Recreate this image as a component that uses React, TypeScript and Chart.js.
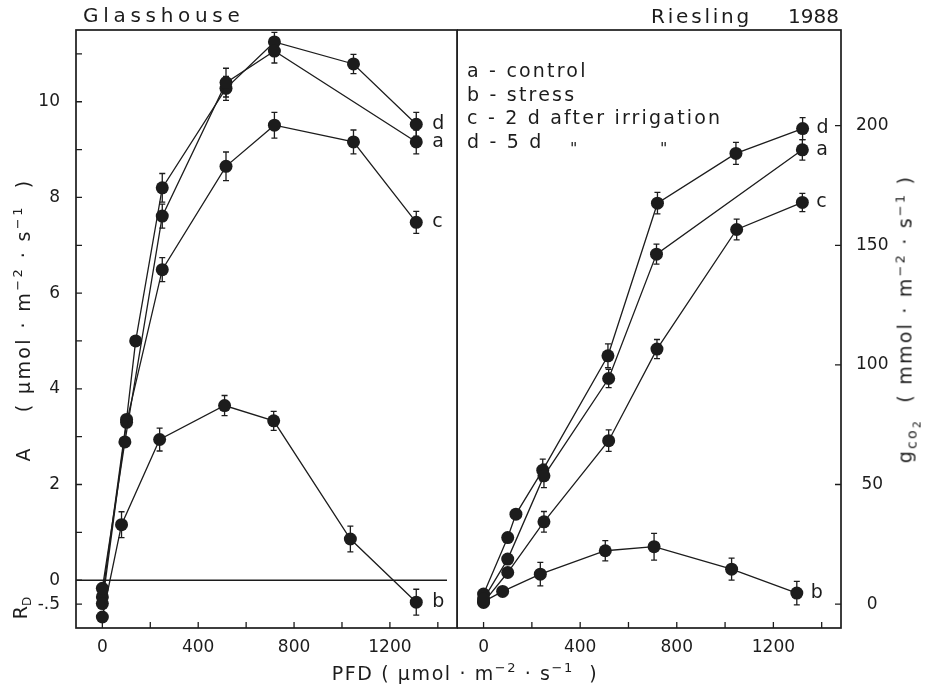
import React, { useEffect, useRef } from 'react';
import { Chart, registerables } from 'chart.js';

Chart.register(...registerables);

// ---------------- data ----------------
const seriesKeys = ['a', 'b', 'c', 'd'];

// Left panel: net photosynthesis A (µmol m-2 s-1) vs PFD
const leftPfdA = [0, 94, 250, 516, 718, 1310];
const leftValA = [-0.17, 2.89, 7.61, 10.4, 11.06, 9.16];
const leftErrA = [0, 0, 0.25, 0.3, 0.25, 0.25];
const leftPfdB = [0, 80, 239, 510, 715, 1035, 1310];
const leftValB = [-0.77, 1.16, 2.94, 3.65, 3.33, 0.86, -0.46];
const leftErrB = [0, 0.27, 0.24, 0.21, 0.2, 0.27, 0.27];
const leftPfdC = [0, 101, 250, 516, 718, 1048, 1310];
const leftValC = [-0.49, 3.3, 6.49, 8.65, 9.51, 9.16, 7.48];
const leftErrC = [0, 0, 0.25, 0.3, 0.27, 0.25, 0.23];
const leftPfdD = [0, 101, 139, 250, 516, 718, 1048, 1310];
const leftValD = [-0.35, 3.36, 5.0, 8.2, 10.28, 11.25, 10.79, 9.53];
const leftErrD = [0, 0, 0, 0.3, 0.25, 0.2, 0.2, 0.25];

// Right panel: stomatal conductance gCO2 (mmol m-2 s-1) vs PFD
const rightPfdA = [0, 100, 250, 518, 716, 1320];
const rightValA = [2.1, 18.8, 53.6, 94.3, 146.3, 189.9];
const rightErrA = [0, 0, 4.9, 3.8, 4.2, 4.3];
const rightPfdB = [0, 79, 235, 504, 706, 1027, 1297];
const rightValB = [1.0, 5.3, 12.5, 22.3, 24.0, 14.6, 4.6];
const rightErrB = [0, 0, 4.9, 4.2, 5.6, 4.6, 4.9];
const rightPfdC = [0, 100, 250, 518, 718, 1048, 1320];
const rightValC = [0.7, 13.2, 34.4, 68.3, 106.6, 156.6, 167.9];
const rightErrC = [0, 0, 4.3, 4.5, 4.0, 4.3, 3.8];
const rightPfdD = [0, 100, 134, 245, 515, 720, 1045, 1321];
const rightValD = [4.2, 27.8, 37.6, 56.0, 103.8, 167.6, 188.4, 198.8];
const rightErrD = [0, 0, 0, 4.6, 5.0, 4.5, 4.6, 4.6];

// ticks
const pfdTicks = [0, 200, 400, 600, 800, 1000, 1200, 1400];
const pfdLabelled = [0, 400, 800, 1200];
const aTicks = [-0.5, 0, 1, 2, 3, 4, 5, 6, 7, 8, 9, 10, 11];
const aLabelled = [0, 2, 4, 6, 8, 10];
const gTicks = [0, 50, 100, 150, 200];

const legendLines = ['a - control', 'b - stress', 'c - 2 d after irrigation', 'd - 5 d'];

// ---------------- style ----------------
const INK = '#1c1c1c';
const FONT = '"DejaVu Sans", sans-serif';
const tickFont = { family: FONT, size: 17 };

function makeDataset(key: string, pfd: number[], vals: number[], errs: number[]) {
  return {
    label: key,
    data: pfd.map((x, i) => ({ x, y: vals[i] })),
    errors: errs,
    showLine: true,
    borderColor: INK,
    borderWidth: 1.3,
    pointRadius: 6.5,
    pointBackgroundColor: INK,
    pointBorderWidth: 0,
    pointHoverRadius: 6.5,
  } as any;
}

const decorPlugin = {
  id: 'decor',
  beforeDatasetsDraw(chart: any, _args: any, opts: any) {
    const { ctx, chartArea: ca, scales } = chart;
    ctx.save();
    ctx.strokeStyle = INK;
    if (opts.zeroLine) {
      const y = scales.y.getPixelForValue(0);
      ctx.lineWidth = 1.5;
      ctx.beginPath();
      ctx.moveTo(ca.left, y);
      ctx.lineTo(ca.right - 10, y);
      ctx.stroke();
    }
    ctx.lineWidth = 1.3;
    chart.data.datasets.forEach((ds: any, i: number) => {
      const meta = chart.getDatasetMeta(i);
      (ds.errors || []).forEach((e: number, j: number) => {
        if (!e) return;
        const pt = meta.data[j];
        const v = ds.data[j].y;
        const y1 = scales.y.getPixelForValue(v + e);
        const y2 = scales.y.getPixelForValue(v - e);
        ctx.beginPath();
        ctx.moveTo(pt.x, y1);
        ctx.lineTo(pt.x, y2);
        ctx.moveTo(pt.x - 3, y1);
        ctx.lineTo(pt.x + 3, y1);
        ctx.moveTo(pt.x - 3, y2);
        ctx.lineTo(pt.x + 3, y2);
        ctx.stroke();
      });
    });
    ctx.restore();
  },
  afterDraw(chart: any, _args: any, opts: any) {
    const { ctx, chartArea: ca, scales } = chart;
    ctx.save();
    ctx.strokeStyle = INK;
    ctx.lineWidth = 1.7;
    ctx.strokeRect(ca.left, ca.top, ca.right - ca.left, ca.bottom - ca.top);
    ctx.lineWidth = 1.3;
    ctx.beginPath();
    scales.x.ticks.forEach((t: any) => {
      const x = scales.x.getPixelForValue(t.value);
      ctx.moveTo(x, ca.bottom);
      ctx.lineTo(x, ca.bottom - 6);
    });
    scales.y.ticks.forEach((t: any) => {
      const y = scales.y.getPixelForValue(t.value);
      if (scales.y.position === 'right') {
        ctx.moveTo(ca.right, y);
        ctx.lineTo(ca.right - 6, y);
      } else {
        ctx.moveTo(ca.left, y);
        ctx.lineTo(ca.left + 6, y);
      }
    });
    ctx.stroke();
    // end-of-curve letters
    ctx.fillStyle = INK;
    ctx.font = `19px ${FONT}`;
    ctx.textAlign = 'left';
    ctx.textBaseline = 'middle';
    chart.data.datasets.forEach((ds: any, i: number) => {
      const meta = chart.getDatasetMeta(i);
      const pt = meta.data[meta.data.length - 1];
      ctx.fillText(ds.label, pt.x + (opts.labelDx || 13), pt.y);
    });
    ctx.restore();
  },
};

function xScale() {
  return {
    type: 'linear',
    min: -110,
    max: 1480,
    grid: { display: false },
    border: { display: false },
    afterBuildTicks: (s: any) => {
      s.ticks = pfdTicks.map((v) => ({ value: v }));
    },
    afterFit: (s: any) => {
      s.height = 43;
      s.paddingLeft = 0;
      s.paddingRight = 0;
    },
    ticks: {
      autoSkip: false,
      maxRotation: 0,
      padding: 1,
      color: INK,
      font: tickFont,
      callback: (v: any) => (pfdLabelled.includes(Number(v)) ? String(v) : ''),
    },
  };
}

function leftConfig(): any {
  return {
    type: 'scatter',
    data: {
      datasets: [
        makeDataset(seriesKeys[0], leftPfdA, leftValA, leftErrA),
        makeDataset(seriesKeys[1], leftPfdB, leftValB, leftErrB),
        makeDataset(seriesKeys[2], leftPfdC, leftValC, leftErrC),
        makeDataset(seriesKeys[3], leftPfdD, leftValD, leftErrD),
      ],
    },
    plugins: [decorPlugin],
    options: {
      animation: false,
      responsive: false,
      events: [],
      layout: { autoPadding: false, padding: { top: 30, right: 1, bottom: 20, left: 0 } },
      plugins: {
        legend: { display: false },
        tooltip: { enabled: false },
        decor: { zeroLine: true, labelDx: 16 },
      },
      scales: {
        x: xScale(),
        y: {
          type: 'linear',
          position: 'left',
          min: -1,
          max: 11.5,
          grid: { display: false },
          border: { display: false },
          afterBuildTicks: (s: any) => {
            s.ticks = aTicks.map((v) => ({ value: v }));
          },
          afterFit: (s: any) => {
            s.width = 76;
            s.paddingTop = 0;
            s.paddingBottom = 0;
          },
          ticks: {
            autoSkip: false,
            padding: 8,
            color: INK,
            font: tickFont,
            callback: (v: any) => {
              const n = Number(v);
              if (n === -0.5) return '-.5';
              return aLabelled.includes(n) ? String(n) : '';
            },
          },
        },
      },
    },
  };
}

function rightConfig(): any {
  return {
    type: 'scatter',
    data: {
      datasets: [
        makeDataset(seriesKeys[0], rightPfdA, rightValA, rightErrA),
        makeDataset(seriesKeys[1], rightPfdB, rightValB, rightErrB),
        makeDataset(seriesKeys[2], rightPfdC, rightValC, rightErrC),
        makeDataset(seriesKeys[3], rightPfdD, rightValD, rightErrD),
      ],
    },
    plugins: [decorPlugin],
    options: {
      animation: false,
      responsive: false,
      events: [],
      layout: { autoPadding: false, padding: { top: 30, right: 0, bottom: 20, left: 0 } },
      plugins: {
        legend: { display: false },
        tooltip: { enabled: false },
        decor: { zeroLine: false, labelDx: 14 },
      },
      scales: {
        x: xScale(),
        y: {
          type: 'linear',
          position: 'right',
          min: -10,
          max: 240,
          grid: { display: false },
          border: { display: false },
          afterBuildTicks: (s: any) => {
            s.ticks = gTicks.map((v) => ({ value: v }));
          },
          afterFit: (s: any) => {
            s.width = 84;
            s.paddingTop = 0;
            s.paddingBottom = 0;
          },
          ticks: {
            autoSkip: false,
            padding: 7,
            crossAlign: 'center',
            color: INK,
            font: tickFont,
            callback: (v: any) => String(v),
          },
        },
      },
    },
  };
}

function ChartCanvas({ make, left, width }: { make: () => any; left: number; width: number }) {
  const ref = useRef<HTMLCanvasElement | null>(null);
  useEffect(() => {
    const chart = new Chart(ref.current as HTMLCanvasElement, make());
    return () => chart.destroy();
  }, []);
  return (
    <canvas
      ref={ref}
      width={width}
      height={691}
      style={{ position: 'absolute', left, top: 0, width, height: 691 }}
    />
  );
}

const txt: React.CSSProperties = {
  position: 'absolute',
  whiteSpace: 'nowrap',
  fontFamily: FONT,
  color: INK,
  lineHeight: 1,
};

const sup: React.CSSProperties = { fontSize: 13 };

export default function App() {
  return (
    <div
      style={{
        position: 'absolute',
        left: 0,
        top: 0,
        width: 925,
        height: 691,
        background: '#fff',
        overflow: 'hidden',
        fontFamily: FONT,
      }}
    >
      <ChartCanvas make={leftConfig} left={0} width={458} />
      <ChartCanvas make={rightConfig} left={457} width={468} />

      {/* panel titles */}
      <div style={{ ...txt, left: 83, top: 5, fontSize: 20, letterSpacing: 4.7 }}>Glasshouse</div>
      <div style={{ ...txt, left: 651, top: 6, fontSize: 20, letterSpacing: 2.8 }}>Riesling</div>
      <div style={{ ...txt, left: 788, top: 6, fontSize: 20 }}>1988</div>

      {/* legend */}
      {legendLines.map((t, i) => (
        <div key={i} style={{ ...txt, left: 467, top: 61 + i * 23.7, fontSize: 19, letterSpacing: 2.2 }}>
          {t}
        </div>
      ))}
      <div style={{ ...txt, left: 570, top: 141, fontSize: 16 }}>"</div>
      <div style={{ ...txt, left: 660, top: 141, fontSize: 16 }}>"</div>

      {/* x axis title */}
      <div style={{ ...txt, left: 465, top: 672, transform: 'translate(-50%, -50%)', fontSize: 19, letterSpacing: 1.6 }}>
        PFD ( μmol · m<sup style={sup}>−2</sup> · s<sup style={sup}>−1</sup> &nbsp;)
      </div>

      {/* left y axis title */}
      <div
        style={{
          ...txt,
          left: 22,
          top: 320,
          transform: 'translate(-50%, -50%) rotate(-90deg)',
          fontSize: 19,
          letterSpacing: 2.4,
        }}
      >
        A&nbsp;&nbsp;&nbsp;&nbsp;( μmol · m<sup style={sup}>−2</sup> · s<sup style={sup}>−1</sup> &nbsp;)
      </div>
      <div
        style={{
          ...txt,
          left: 22,
          top: 608,
          transform: 'translate(-50%, -50%) rotate(-90deg)',
          fontSize: 19,
        }}
      >
        R<sub style={{ fontSize: 12 }}>D</sub>
      </div>

      {/* right y axis title */}
      <div
        style={{
          ...txt,
          left: 908,
          top: 319,
          transform: 'translate(-50%, -50%) rotate(-90deg)',
          fontSize: 19,
          letterSpacing: 2.2,
        }}
      >
        g<sub style={{ fontSize: 14 }}>co<sub style={{ fontSize: 11 }}>2</sub></sub> &nbsp;( mmol · m
        <sup style={sup}>−2</sup> · s<sup style={sup}>−1</sup> )
      </div>
    </div>
  );
}
